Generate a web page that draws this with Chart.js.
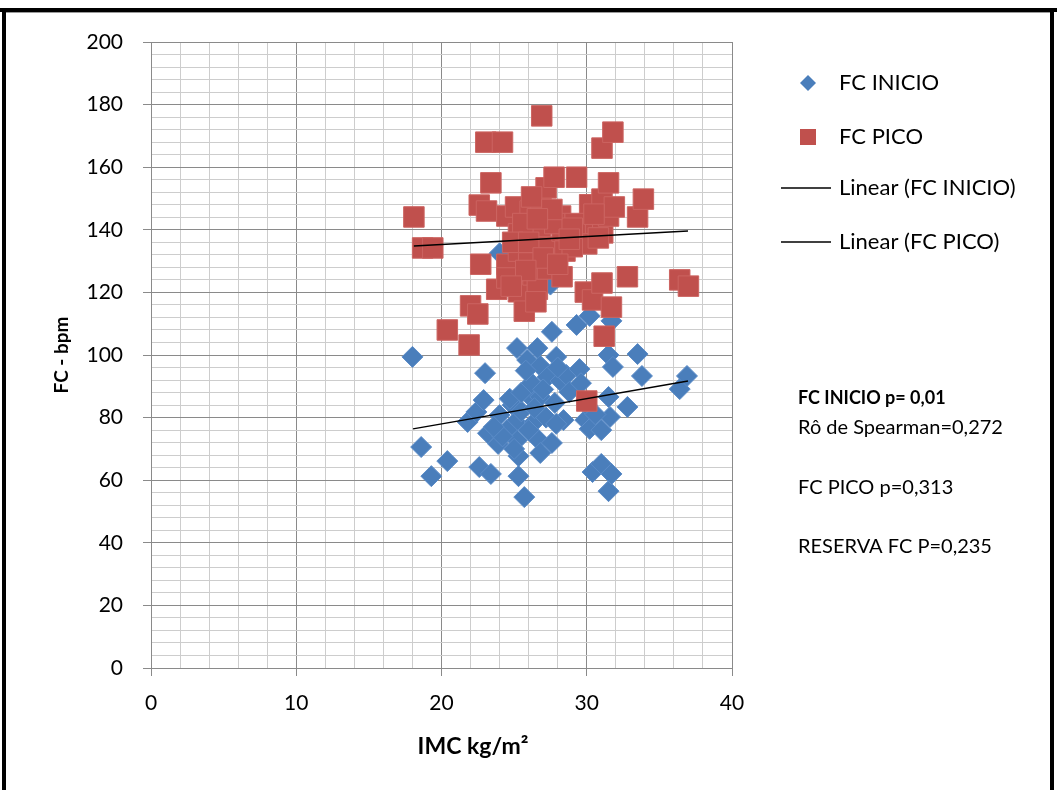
<!DOCTYPE html>
<html>
<head>
<meta charset="utf-8">
<script src="https://cdn.jsdelivr.net/npm/chart.js@4.4.1/dist/chart.umd.min.js"></script>
<style>
  html, body { margin: 0; padding: 0; background: #fff; }
  #wrap { position: relative; width: 1057px; height: 790px; }
</style>
</head>
<body>
<div id="wrap"><canvas id="c" width="1057" height="790"></canvas></div>
<script>
// ---- DATA ----
const inicioX = [18.0,18.6,19.3,20.4,21.8,22.4,22.9,23.0,22.6,23.4,23.2,23.9,24.0,24.9,25.1,25.2,25.3,25.3,25.7,25.2,25.9,26.0,26.4,26.6,26.7,26.8,26.8,26.8,27.3,27.6,27.6,27.8,27.9,28.2,28.4,28.6,28.8,29.3,29.5,29.9,30.2,30.2,30.4,31.0,31.0,31.5,31.5,31.5,31.6,31.7,31.7,31.8,32.8,33.5,33.8,36.4,36.9,24.0,27.5,24.5,25.5,26.0,24.7,25.5,27.2,25.0,24.2,27.9,26.4,23.6,26.2,25.8,27.0,28.0,30.0,29.6,30.6];
const inicioY = [99.4,70.6,61.3,66.1,78.6,81.8,85.6,94.2,64.2,62.0,75.0,71.6,80.8,84.0,78.6,72.8,67.7,61.3,54.6,102.2,98.4,87.2,78.6,102.2,72.8,68.7,86.6,96.5,93.0,107.4,71.9,84.7,99.4,91.7,79.2,93.6,88.2,109.6,95.5,79.2,76.4,112.5,62.6,65.2,76.0,56.5,86.6,100.0,80.2,62.0,110.9,96.2,83.4,100.3,93.3,89.1,93.3,132.5,122.5,76,82,76,86,88,80,70,74,78,83,77,91,95,89,96,84,91,81];
const picoX = [18.1,18.7,19.4,20.4,21.9,22.0,22.5,22.6,22.7,23.05,23.1,23.4,23.8,24.2,24.5,24.5,24.5,25.1,25.3,25.3,25.3,25.7,26.0,26.1,26.3,26.6,26.8,26.85,26.9,27.2,27.3,27.3,27.75,28.2,28.3,28.3,28.5,29.3,29.7,29.9,30.0,30.0,30.2,30.4,31.05,31.05,31.05,31.1,31.2,31.5,31.5,31.7,31.8,31.9,32.8,33.5,33.9,36.4,37.0,26.2,25.6,27.8,29.0,24.9,26.0,30.8,29.2,29.0,27.0,28.0,25.8,26.5,24.8,30.5,27.6,28.8,26.6];
const picoY = [144.1,134.2,134.2,108.0,103.2,115.7,113.1,147.9,129.0,168.0,146.0,155.0,121.0,168.0,144.4,129.0,124.6,147.3,138.7,133.2,120.2,114.0,129.4,146.0,125.6,121.0,139.0,147.3,176.4,153.4,134.5,127.5,156.8,144.4,139.6,125.0,133.2,156.8,139.6,120.1,135.5,85.3,148.0,117.6,166.1,149.8,123.0,139.0,106.0,155.0,144.4,115.3,171.2,147.3,125.0,144.1,149.8,124.0,122.0,150.5,142,142,134.6,136,136,137.4,142,140.5,131,129,127,117,122,145,146.5,137,143.5];
const trendInicioX = [18.04, 36.97];
const trendInicioY = [76.4, 91.7];
const trendPicoX = [18.1, 36.97];
const trendPicoY = [134.8, 139.6];
const xTicksMajor = 10, yTicksMajor = 20;
const legendLabels = ['FC INICIO', 'FC PICO', 'Linear (FC INICIO)', 'Linear (FC PICO)'];
const notes = ['FC INICIO p= 0,01', 'Rô de Spearman=0,272', 'FC PICO p=0,313', 'RESERVA FC P=0,235'];

const pts = (xs, ys) => xs.map((x, i) => ({x: x, y: ys[i]}));

const BLUE = '#4A7EBB', RED = '#C0504D';
const FONT = 'Lato';

const decor = {
  id: 'decor',
  beforeDraw(chart) {
    const c = chart.ctx;
    c.save();
    c.fillStyle = '#fff';
    c.fillRect(0, 0, chart.width, chart.height);
    c.restore();
  },
  afterDraw(chart) {
    const c = chart.ctx;
    c.save();
    // frame
    c.fillStyle = '#000';
    c.fillRect(0, 8, 1057, 4);
    c.fillRect(2, 8, 4, 782);
    c.fillRect(1050, 8, 4, 782);
    c.fillStyle = '#9a9a9a';
    c.fillRect(6, 12, 1044, 1);
    // axis titles
    c.fillStyle = '#000';
    c.textAlign = 'center';
    c.textBaseline = 'middle';
    c.font = 'bold 23px ' + FONT;
    c.fillText('IMC kg/m²', 473, 747);
    c.save();
    c.translate(62, 355);
    c.rotate(-Math.PI / 2);
    c.font = 'bold 19px ' + FONT;
    c.fillText('FC - bpm', 0, 0);
    c.restore();
    // legend
    const ys = [83, 137, 188, 242];
    c.fillStyle = BLUE;
    c.beginPath();
    c.moveTo(808 - 8, ys[0]); c.lineTo(808, ys[0] - 8); c.lineTo(808 + 8, ys[0]); c.lineTo(808, ys[0] + 8);
    c.closePath(); c.fill();
    c.fillStyle = RED;
    c.fillRect(800, ys[1] - 8, 16, 16);
    c.strokeStyle = '#000';
    c.lineWidth = 1.3;
    [ys[2], ys[3]].forEach(y => { c.beginPath(); c.moveTo(781, y); c.lineTo(831, y); c.stroke(); });
    c.fillStyle = '#000';
    c.textAlign = 'left';
    c.font = '22px ' + FONT;
    legendLabels.forEach((t, i) => c.fillText(t, 839, ys[i]));
    // notes
    const ny = [398, 428, 488, 547];
    notes.forEach((t, i) => {
      c.font = (i === 0 ? 'bold 18px ' : '20px ') + FONT;
      c.fillText(t, 798, ny[i]);
    });
    c.restore();
  }
};

const gridColor = (major) => (ctx) => (ctx.tick && ctx.tick.value % major === 0) ? '#8a8a8a' : '#cdcdcd';
const tickColor = (major) => (ctx) => (ctx.tick && ctx.tick.value % major === 0) ? '#8a8a8a' : 'rgba(0,0,0,0)';

new Chart(document.getElementById('c'), {
  type: 'scatter',
  data: {
    datasets: [
      { label: legendLabels[0], data: pts(inicioX, inicioY), pointStyle: 'rectRot', pointRadius: 10.5,
        backgroundColor: BLUE, borderColor: '#5B8CC8', borderWidth: 1, order: 2 },
      { label: legendLabels[1], data: pts(picoX, picoY), pointStyle: 'rect', pointRadius: 14.5,
        backgroundColor: RED, borderColor: '#CC6461', borderWidth: 1, order: 1 },
      { label: legendLabels[2], type: 'line', data: pts(trendInicioX, trendInicioY), showLine: true,
        borderColor: '#000', borderWidth: 1.5, pointRadius: 0, fill: false, order: 0 },
      { label: legendLabels[3], type: 'line', data: pts(trendPicoX, trendPicoY), showLine: true,
        borderColor: '#000', borderWidth: 1.5, pointRadius: 0, fill: false, order: 0 }
    ]
  },
  options: {
    responsive: false,
    animation: false,
    events: [],
    layout: { padding: { left: 0, top: 42, right: 325, bottom: 0 } },
    plugins: { legend: { display: false }, tooltip: { enabled: false } },
    scales: {
      x: {
        type: 'linear', min: 0, max: 40,
        afterFit: s => { s.height = 122; },
        ticks: { stepSize: 2, autoSkip: false, maxRotation: 0, padding: 15, color: '#000',
          font: { family: FONT, size: 21 },
          callback: v => (v % xTicksMajor === 0 ? v : '') },
        grid: { color: gridColor(xTicksMajor), tickColor: tickColor(xTicksMajor), tickLength: 8, lineWidth: 1 },
        border: { color: '#8a8a8a', width: 1 }
      },
      y: {
        type: 'linear', min: 0, max: 200,
        afterFit: s => { s.width = 151; },
        ticks: { stepSize: 4, autoSkip: false, padding: 20, color: '#000',
          font: { family: FONT, size: 21 },
          callback: v => (v % yTicksMajor === 0 ? v : '') },
        grid: { color: gridColor(yTicksMajor), tickColor: tickColor(yTicksMajor), tickLength: 8, lineWidth: 1 },
        border: { color: '#8a8a8a', width: 1 }
      }
    }
  },
  plugins: [decor]
});
</script>
</body>
</html>
